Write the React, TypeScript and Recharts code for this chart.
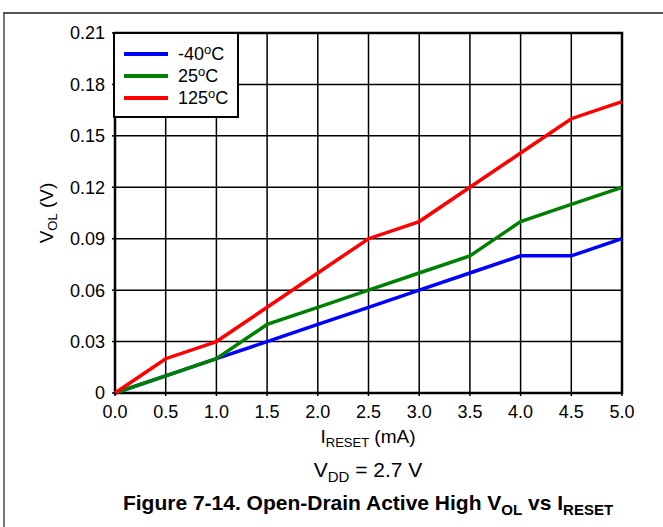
import React from "react";
import { LineChart, Line, XAxis, YAxis, CartesianGrid, ReferenceArea } from "recharts";

const currents = [0, 0.5, 1.0, 1.5, 2.0, 2.5, 3.0, 3.5, 4.0, 4.5, 5.0];
const volMinus40 = [0, 0.01, 0.02, 0.03, 0.04, 0.05, 0.06, 0.07, 0.08, 0.08, 0.09];
const vol25 = [0, 0.01, 0.02, 0.04, 0.05, 0.06, 0.07, 0.08, 0.10, 0.11, 0.12];
const vol125 = [0, 0.02, 0.03, 0.05, 0.07, 0.09, 0.10, 0.12, 0.14, 0.16, 0.17];
const xTicks = [0, 0.5, 1.0, 1.5, 2.0, 2.5, 3.0, 3.5, 4.0, 4.5, 5.0];
const yTicks = [0, 0.03, 0.06, 0.09, 0.12, 0.15, 0.18, 0.21];
const seriesNames = ["-40", "25", "125"];
const seriesColors = ["#0000FF", "#008000", "#FF0000"];

const data = currents.map((c, i) => ({
  i: c,
  a: volMinus40[i],
  b: vol25[i],
  c: vol125[i],
}));

const FONT = "'Liberation Sans', Arial, sans-serif";

function LegendBox() {
  return (
    <div
      style={{
        position: "absolute",
        left: 113,
        top: 32,
        width: 122,
        height: 82,
        border: "2.5px solid #000",
        background: "#fff",
        fontFamily: FONT,
        fontSize: 18,
        color: "#000",
        boxSizing: "content-box",
      }}
    >
      <div style={{ height: 9 }} />
      {seriesNames.map((n, k) => (
        <div key={n} style={{ display: "flex", alignItems: "center", height: 22, marginLeft: 9 }}>
          <div style={{ width: 44, height: 4, background: seriesColors[k] }} />
          <span style={{ marginLeft: 10, lineHeight: "20px", whiteSpace: "nowrap" }}>
            {n}
            <sup style={{ fontSize: 13, verticalAlign: 6, lineHeight: 0 }}>o</sup>C
          </span>
        </div>
      ))}
    </div>
  );
}

const subStyle = (size: number, drop: number) => ({ fontSize: size, verticalAlign: -drop, lineHeight: 0 });

export default function App() {
  return (
    <div style={{ position: "absolute", left: 0, top: 0, width: 663, height: 527, background: "#fff", fontFamily: FONT, overflow: "hidden" }}>
      <div style={{ position: "absolute", left: 3, top: 12, width: 2, height: 515, background: "#777" }} />
      <div style={{ position: "absolute", left: 3, top: 12, width: 660, height: 2, background: "#555" }} />
      <LineChart
        width={663}
        height={527}
        data={data}
        margin={{ top: 33, right: 41, left: 55, bottom: 104 }}
        style={{ position: "absolute", left: 0, top: 0 }}
      >
        <CartesianGrid stroke="#000" strokeWidth={1.5} strokeOpacity={1} horizontalValues={yTicks} verticalValues={xTicks} />
        <XAxis
          dataKey="i"
          type="number"
          domain={[0, 5]}
          ticks={xTicks}
          tickFormatter={(v: number) => v.toFixed(1)}
          height={30}
          axisLine={false}
          tickLine={{ stroke: "#000", strokeWidth: 1.5 }}
          tickSize={3}
          tick={{ fill: "#000", fontSize: 18, fontFamily: FONT }}
          tickMargin={9}
        />
        <YAxis
          type="number"
          domain={[0, 0.21]}
          ticks={yTicks}
          tickFormatter={(v: number) => (v === 0 ? "0" : v.toFixed(2))}
          width={60}
          axisLine={false}
          tickLine={{ stroke: "#000", strokeWidth: 1.5 }}
          tickSize={3}
          tick={{ fill: "#000", fontSize: 18, fontFamily: FONT }}
          tickMargin={7}
        />
        <ReferenceArea x1={0} x2={5} y1={0} y2={0.21} fill="none" stroke="#000" strokeWidth={2.5} ifOverflow="visible" />
        <Line dataKey="a" name="-40°C" stroke={seriesColors[0]} strokeWidth={3.5} dot={false} isAnimationActive={false} />
        <Line dataKey="b" name="25°C" stroke={seriesColors[1]} strokeWidth={3.5} dot={false} isAnimationActive={false} />
        <Line dataKey="c" name="125°C" stroke={seriesColors[2]} strokeWidth={3.5} dot={false} isAnimationActive={false} />
      </LineChart>
      <LegendBox />
      <div
        style={{
          position: "absolute",
          left: 47 - 70,
          top: 213 - 11,
          width: 140,
          height: 22,
          textAlign: "center",
          fontSize: 19,
          lineHeight: "22px",
          transform: "rotate(-90deg)",
          color: "#000",
          whiteSpace: "nowrap",
        }}
      >
        V<sub style={subStyle(13, 4)}>OL</sub> (V)
      </div>
      <div
        style={{
          position: "absolute",
          left: 218,
          top: 426,
          width: 300,
          textAlign: "center",
          fontSize: 19,
          lineHeight: "22px",
          color: "#000",
          whiteSpace: "nowrap",
        }}
      >
        I<sub style={subStyle(13, 4)}>RESET</sub> (mA)
      </div>
      <div
        style={{
          position: "absolute",
          left: 218,
          top: 458,
          width: 300,
          textAlign: "center",
          fontSize: 21,
          lineHeight: "24px",
          color: "#000",
          whiteSpace: "nowrap",
        }}
      >
        V<sub style={subStyle(15, 5)}>DD</sub> = 2.7 V
      </div>
      <div
        style={{
          position: "absolute",
          left: 18,
          top: 491,
          width: 700,
          textAlign: "center",
          fontSize: 21,
          fontWeight: "bold",
          lineHeight: "24px",
          color: "#000",
          whiteSpace: "nowrap",
        }}
      >
        Figure 7-14. Open-Drain Active High V<sub style={subStyle(15, 5)}>OL</sub> vs I
        <sub style={subStyle(15, 5)}>RESET</sub>
      </div>
    </div>
  );
}
